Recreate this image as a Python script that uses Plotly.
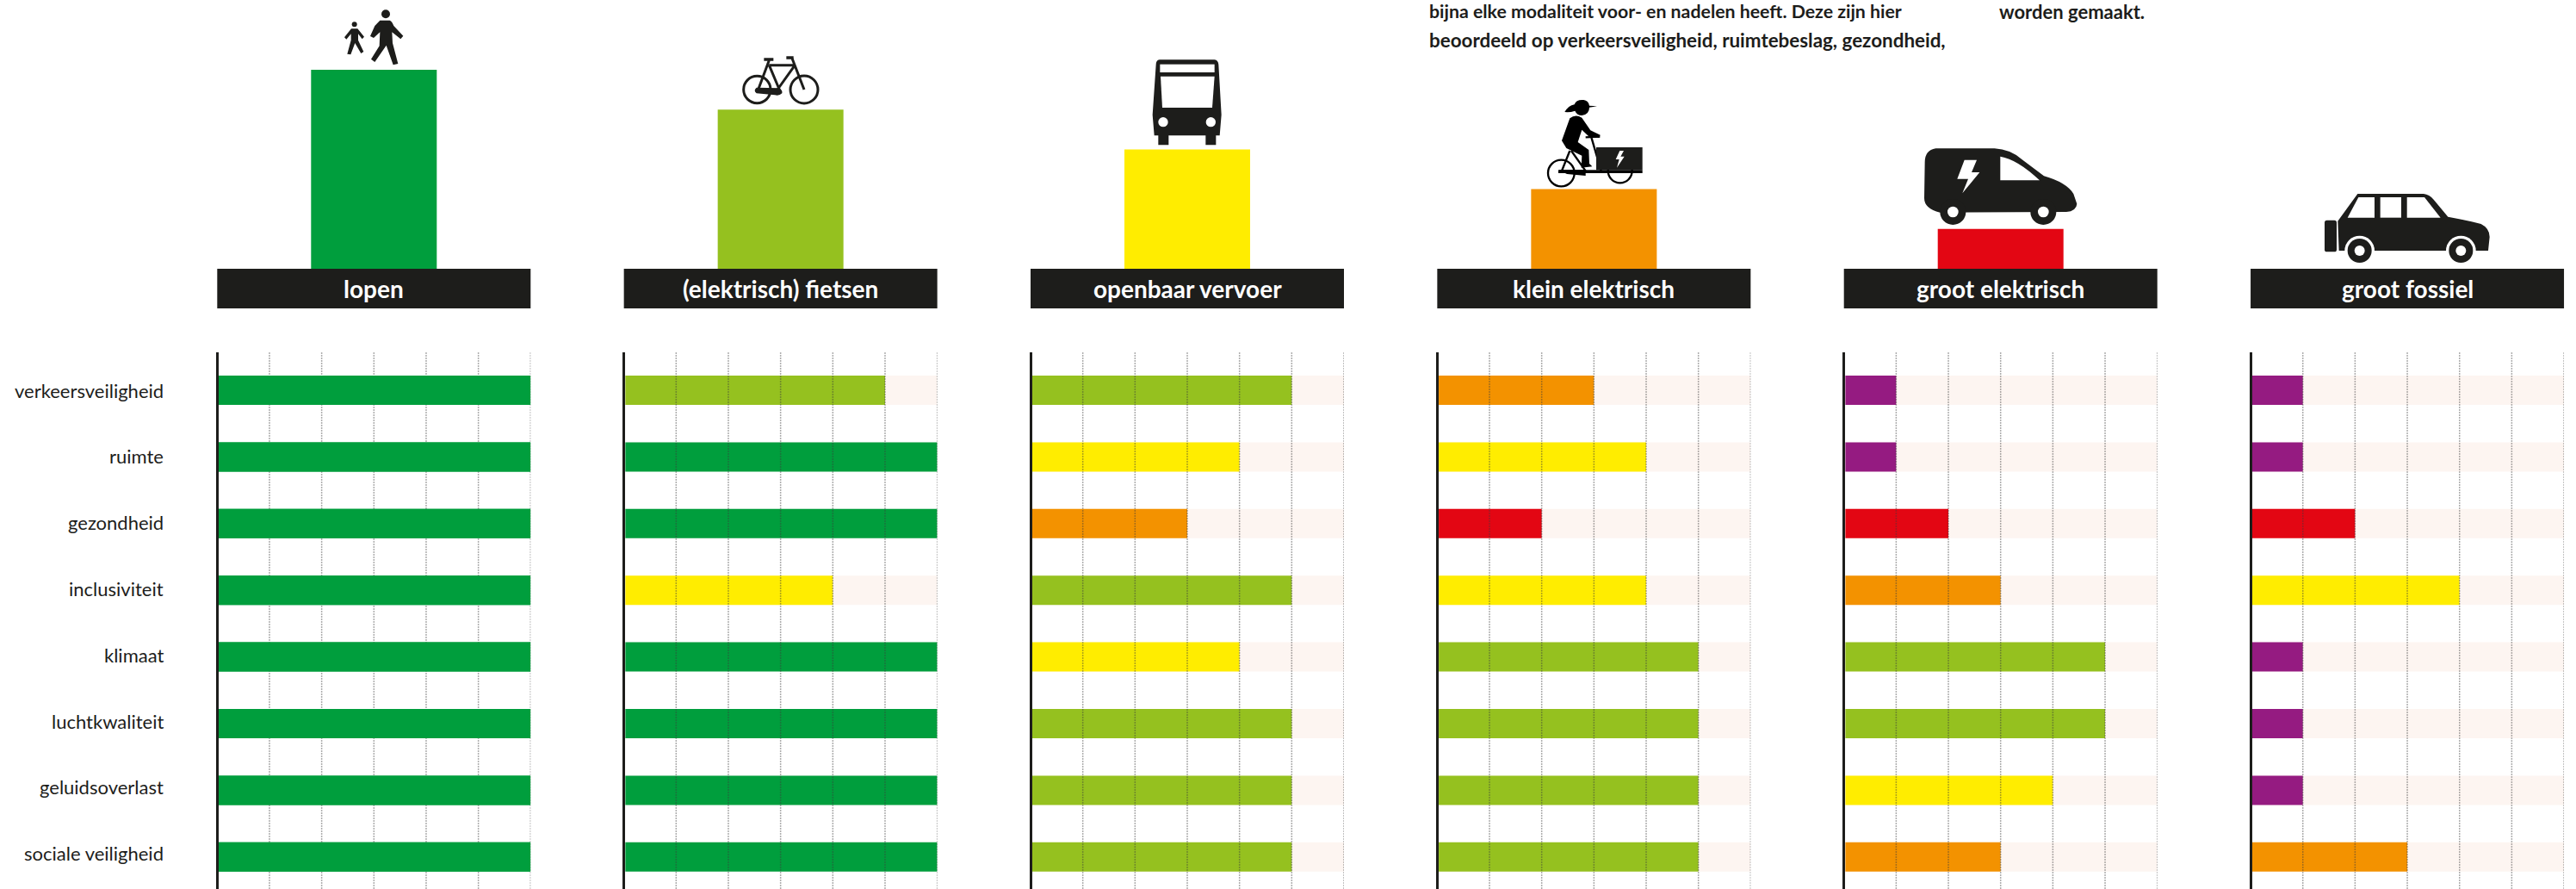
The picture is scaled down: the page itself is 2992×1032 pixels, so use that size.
import base64
import plotly.graph_objects as go

W, H = 2992, 1032

# ---------- data ----------
modes = ["lopen", "(elektrisch) fietsen", "openbaar vervoer", "klein elektrisch", "groot elektrisch", "groot fossiel"]
rank_values = [5, 4, 3, 2, 1, 0]
rank_colors = ["#009E3D", "#95C11F", "#FFED00", "#F39200", "#E30613", "#951B81"]

criteria = ["verkeersveiligheid", "ruimte", "gezondheid", "inclusiviteit",
            "klimaat", "luchtkwaliteit", "geluidsoverlast", "sociale veiligheid"]
lopen = [6, 6, 6, 6, 6, 6, 6, 6]
fietsen = [5, 6, 6, 4, 6, 6, 6, 6]
ov = [5, 4, 3, 5, 4, 5, 5, 5]
klein = [3, 4, 2, 4, 5, 5, 5, 5]
groot_el = [1, 1, 2, 3, 5, 5, 4, 3]
groot_fos = [1, 1, 2, 4, 1, 1, 1, 3]
scores = [lopen, fietsen, ov, klein, groot_el, groot_fos]
score_max = 6
score_ticks = [1, 2, 3, 4, 5, 6]
score_colors = {6: "#009E3D", 5: "#95C11F", 4: "#FFED00", 3: "#F39200", 2: "#E30613", 1: "#951B81"}
track_color = "#FDF5F1"
ink = "#1D1D1B"

intro_lines = ["bijna elke modaliteit voor- en nadelen heeft. Deze zijn hier",
               "beoordeeld op verkeersveiligheid, ruimtebeslag, gezondheid,"]
intro_right = "worden gemaakt."

# ---------- layout constants (pixels) ----------
panel_x0 = 252.3
panel_step = 472.35
panel_w = 364
axis_inset = 1.7
base_y = 312
header_h = 46
unit_h = 46.2
rank_bar_w = 146
row0 = 453
row_step = 77.4
label_step = 76.8
row_h = 34
grid_top = 409
label_right = 192

def px(x):
    return x / W

def py(y):
    return 1 - y / H

fig = go.Figure()

# ---------- top bars ----------
center0 = panel_x0 + panel_w / 2
fig.add_trace(go.Bar(
    x=list(range(len(modes))), y=rank_values, marker=dict(color=rank_colors, line_width=0),
    width=rank_bar_w / panel_step, xaxis="x", yaxis="y", showlegend=False, hoverinfo="skip"))

layout = dict(
    width=W, height=H, margin=dict(l=0, r=0, t=0, b=0, pad=0),
    paper_bgcolor="white", plot_bgcolor="rgba(0,0,0,0)", barmode="overlay",
    showlegend=False, font=dict(family="Lato", color=ink),
    xaxis=dict(domain=[0, 1], range=[-center0 / panel_step, (W - center0) / panel_step],
               visible=False, fixedrange=True),
    yaxis=dict(domain=[py(base_y), 1], range=[0, base_y / unit_h], visible=False, fixedrange=True),
)

shapes = []
annotations = []

# ---------- panels ----------
for i, (mode, vals) in enumerate(zip(modes, scores)):
    n = i + 2
    xn, yn = f"x{n}", f"y{n}"
    x0 = panel_x0 + i * panel_step
    row_y = list(range(len(criteria)))
    fig.add_trace(go.Bar(
        y=row_y, x=[score_max] * len(criteria), orientation="h",
        marker=dict(color=track_color, line_width=0), width=row_h / row_step,
        xaxis=xn, yaxis=yn, showlegend=False, hoverinfo="skip"))
    fig.add_trace(go.Bar(
        y=row_y, x=vals, orientation="h",
        marker=dict(color=[score_colors[v] for v in vals], line_width=0), width=row_h / row_step,
        xaxis=xn, yaxis=yn, showlegend=False, hovertemplate="%{x}<extra></extra>"))
    layout[f"xaxis{n}"] = dict(
        domain=[px(x0 + axis_inset), px(x0 + panel_w)],
        range=[axis_inset / (panel_w / score_max), score_max], anchor=yn,
        showticklabels=False, ticks="", showgrid=False, zeroline=False, showline=False,
        fixedrange=True)
    layout[f"yaxis{n}"] = dict(
        domain=[0, py(grid_top)],
        range=[(H - row0) / row_step, (grid_top - row0) / row_step], anchor=xn,
        showticklabels=False, ticks="",
        showgrid=False, zeroline=False, showline=True, linecolor=ink, linewidth=3,
        fixedrange=True)
    # scale lines, over the bars
    for t in score_ticks:
        shapes.append(dict(type="line", xref=xn, yref=f"{yn} domain", x0=t, x1=t, y0=0, y1=1,
                           line=dict(color="rgba(60,60,60,0.42)", width=1.5, dash="2px,1px"), layer="above"))
    # the first panel's bars sit in front of its scale lines
    if i == 0:
        for k, v in enumerate(vals):
            shapes.append(dict(type="rect", xref=xn, yref=yn, x0=0, x1=v,
                               y0=k - row_h / row_step / 2, y1=k + row_h / row_step / 2,
                               fillcolor=score_colors[v], line_width=0, layer="above"))
    # header band
    shapes.append(dict(type="rect", xref="paper", yref="paper", x0=px(x0), x1=px(x0 + panel_w),
                       y0=py(base_y), y1=py(base_y + header_h), fillcolor=ink, line_width=0, layer="above"))
    annotations.append(dict(text=f"<b>{mode}</b>", xref="paper", yref="paper", x=px(x0 + panel_w / 2),
                            y=py(base_y + header_h / 2), xanchor="center", yanchor="middle", showarrow=False,
                            font=dict(family="Lato", size=28, color="white")))

# ---------- row labels ----------
for k, label in enumerate(criteria):
    annotations.append(dict(text=label, xref="paper", yref="paper", x=px(label_right),
                            y=py(row0 + k * label_step), xanchor="right", yanchor="middle", showarrow=False,
                            font=dict(family="Lato", size=22, color=ink)))

# ---------- intro text ----------
for txt, y, size in zip(intro_lines, [13, 47], [21.3, 22.4]):
    annotations.append(dict(text=f"<b>{txt}</b>", xref="paper", yref="paper", x=px(1658), y=py(y),
                            xanchor="left", yanchor="middle", showarrow=False,
                            font=dict(family="Lato", size=size, color=ink)))
annotations.append(dict(text=f"<b>{intro_right}</b>", xref="paper", yref="paper", x=px(2320), y=py(13),
                        xanchor="left", yanchor="middle", showarrow=False,
                        font=dict(family="Lato", size=22, color=ink)))

# ---------- icons (SVG, drawn in 3x crop coordinates) ----------
K = "#1D1D1B"
walk = f'''<circle cx="234" cy="49" r="15" fill="{K}"/>
<path fill="{K}" d="M214 71 L248 71 Q256 74 262 90 L295 125 L286 136 L256 112 L258 150 L277 222 L260 226 L236 158 L196 216 L183 206 L212 160 L214 112 L192 132 L180 126 L196 90 Z"/>
<circle cx="125" cy="85" r="9" fill="{K}"/>
<path fill="{K}" d="M114 100 L136 100 L159 128 L152 136 L138 118 L138 140 L157 180 L148 186 L127 150 L112 190 L100 188 L113 140 L113 118 L97 137 L90 130 Z"/>'''
bike = f'''<g fill="none" stroke="{K}" stroke-width="9">
<circle cx="118" cy="147" r="47"/><circle cx="282" cy="147" r="48"/>
<path d="M160 62 L250 62 M160 45 L122 147 M250 62 L187 150 M240 38 L282 147 M160 62 L197 150"/>
<path d="M142 42 L175 42 M220 36 L245 36" stroke-width="10"/></g>
<path fill="{K}" d="M116 140 L195 142 Q208 150 205 160 Q195 170 180 166 L116 160 Q104 150 116 140 Z"/>'''
bus = f'''<path fill="{K}" d="M80 28 L272 28 Q285 30 286 45 L296 220 L290 292 L277 292 L277 325 L241 325 L241 292 L112 292 L112 325 L76 325 L76 292 L62 292 L56 220 L68 45 Q68 30 80 28 Z"/>
<g fill="white"><rect x="82" y="44" width="190" height="28"/><path d="M84 86 L272 86 L264 195 L90 195 Z"/>
<circle cx="93" cy="245" r="17"/><circle cx="259" cy="245" r="17"/></g>'''
cargo = f'''<g fill="none" stroke="#000" stroke-width="7">
<circle cx="100" cy="273" r="46"/><circle cx="305" cy="265" r="42"/>
<path d="M205 148 L240 268 M185 148 L235 146 M130 195 L100 270 M135 195 L185 265 M100 265 L185 265" /></g>
<rect x="222" y="183" width="161" height="79" fill="{K}"/>
<rect x="90" y="262" width="293" height="11" fill="#000"/>
<path fill="white" d="M304 195 L290 225 L302 225 L294 254 L320 215 L307 215 L318 195 Z"/>
<path fill="#000" d="M112 60 Q125 38 146 34 Q152 16 178 18 Q195 20 198 38 L225 40 L198 44 Q198 68 172 72 Q155 72 148 56 Q130 62 112 60 Z"/>
<path fill="#000" d="M130 82 Q150 66 172 80 L202 124 L236 140 L232 150 L195 144 L172 122 L158 165 L196 192 L198 240 L208 250 L170 254 L172 212 L118 186 L102 160 Z"/>
<path fill="#000" d="M90 262 L185 262 L185 282 L120 276 Z"/>'''
van = f'''<path fill="{K}" d="M85 22 L290 22 Q345 25 385 60 L462 118 Q540 140 565 180 L577 215 Q575 240 540 243 L100 245 Q45 232 45 195 L47 70 Q47 28 85 22 Z"/>
<circle cx="145" cy="243" r="45" fill="{K}"/><circle cx="460" cy="243" r="45" fill="{K}"/>
<g fill="white"><circle cx="145" cy="243" r="19"/><circle cx="460" cy="243" r="19"/>
<path d="M310 50 Q370 60 447 133 L310 133 Z"/>
<path d="M185 62 L228 62 L210 105 L238 105 L178 178 L198 128 L160 128 Z"/></g>'''
car = f'''<rect x="30" y="122" width="42" height="110" rx="8" fill="{K}"/>
<path fill="{K}" d="M145 30 L375 30 Q395 32 410 50 L460 110 Q540 125 575 135 Q605 150 605 180 L600 228 L80 228 L76 125 Z"/>
<g fill="white"><path d="M148 42 L204 42 L204 113 L110 113 Z"/><rect x="224" y="42" width="73" height="71"/>
<path d="M317 42 L378 42 L434 113 L317 113 Z"/>
<circle cx="152" cy="228" r="52"/><circle cx="505" cy="228" r="52"/></g>
<circle cx="152" cy="228" r="42" fill="{K}"/><circle cx="505" cy="228" r="42" fill="{K}"/>
<circle cx="152" cy="228" r="18" fill="white"/><circle cx="505" cy="228" r="18" fill="white"/>'''

icons = [(370, 0, 130, 85, walk), (840, 55, 140, 75, bike), (1320, 60, 150, 115, bus),
         (1780, 110, 140, 110, cargo), (2220, 165, 210, 100, van), (2690, 215, 210, 100, car)]
images = []
for cx, cy, cw, ch, body in icons:
    svg = (f'<svg xmlns="http://www.w3.org/2000/svg" width="{cw}" height="{ch}" '
           f'viewBox="0 0 {cw * 3} {ch * 3}" preserveAspectRatio="none">{body}</svg>')
    src = "data:image/svg+xml;base64," + base64.b64encode(svg.encode()).decode()
    images.append(dict(source=src, xref="paper", yref="paper", x=px(cx), y=py(cy),
                       sizex=cw / W, sizey=ch / H, xanchor="left", yanchor="top",
                       sizing="stretch", layer="above"))

layout.update(shapes=shapes, annotations=annotations, images=images)
fig.update_layout(**layout)
fig.write_html("out.html", post_script="document.body.style.margin='0';document.documentElement.style.overflow='hidden';",
               config=dict(displayModeBar=False))
